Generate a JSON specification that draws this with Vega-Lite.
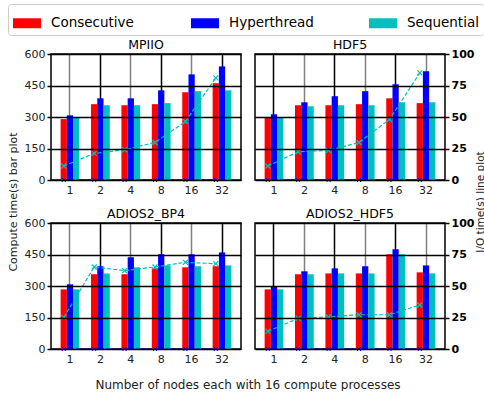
{
"$schema": "https://vega.github.io/schema/vega-lite/v6.json",
"padding": {"left": 6, "top": 3, "right": 0, "bottom": 0},
"background": "white",
"datasets": {
"bars": [
{"panel":"MPIIO","nodes":"1","series":"Consecutive","compute":290},{"panel":"MPIIO","nodes":"1","series":"Hyperthread","compute":308},{"panel":"MPIIO","nodes":"1","series":"Sequential","compute":297},
{"panel":"MPIIO","nodes":"2","series":"Consecutive","compute":361},{"panel":"MPIIO","nodes":"2","series":"Hyperthread","compute":389},{"panel":"MPIIO","nodes":"2","series":"Sequential","compute":356},
{"panel":"MPIIO","nodes":"4","series":"Consecutive","compute":356},{"panel":"MPIIO","nodes":"4","series":"Hyperthread","compute":389},{"panel":"MPIIO","nodes":"4","series":"Sequential","compute":356},
{"panel":"MPIIO","nodes":"8","series":"Consecutive","compute":361},{"panel":"MPIIO","nodes":"8","series":"Hyperthread","compute":427},{"panel":"MPIIO","nodes":"8","series":"Sequential","compute":366},
{"panel":"MPIIO","nodes":"16","series":"Consecutive","compute":418},{"panel":"MPIIO","nodes":"16","series":"Hyperthread","compute":503},{"panel":"MPIIO","nodes":"16","series":"Sequential","compute":423},
{"panel":"MPIIO","nodes":"32","series":"Consecutive","compute":461},{"panel":"MPIIO","nodes":"32","series":"Hyperthread","compute":541},{"panel":"MPIIO","nodes":"32","series":"Sequential","compute":427},
{"panel":"HDF5","nodes":"1","series":"Consecutive","compute":299},{"panel":"HDF5","nodes":"1","series":"Hyperthread","compute":313},{"panel":"HDF5","nodes":"1","series":"Sequential","compute":299},
{"panel":"HDF5","nodes":"2","series":"Consecutive","compute":356},{"panel":"HDF5","nodes":"2","series":"Hyperthread","compute":370},{"panel":"HDF5","nodes":"2","series":"Sequential","compute":351},
{"panel":"HDF5","nodes":"4","series":"Consecutive","compute":356},{"panel":"HDF5","nodes":"4","series":"Hyperthread","compute":399},{"panel":"HDF5","nodes":"4","series":"Sequential","compute":356},
{"panel":"HDF5","nodes":"8","series":"Consecutive","compute":361},{"panel":"HDF5","nodes":"8","series":"Hyperthread","compute":423},{"panel":"HDF5","nodes":"8","series":"Sequential","compute":356},
{"panel":"HDF5","nodes":"16","series":"Consecutive","compute":389},{"panel":"HDF5","nodes":"16","series":"Hyperthread","compute":456},{"panel":"HDF5","nodes":"16","series":"Sequential","compute":370},
{"panel":"HDF5","nodes":"32","series":"Consecutive","compute":366},{"panel":"HDF5","nodes":"32","series":"Hyperthread","compute":518},{"panel":"HDF5","nodes":"32","series":"Sequential","compute":370},
{"panel":"ADIOS2_BP4","nodes":"1","series":"Consecutive","compute":284},{"panel":"ADIOS2_BP4","nodes":"1","series":"Hyperthread","compute":308},{"panel":"ADIOS2_BP4","nodes":"1","series":"Sequential","compute":284},
{"panel":"ADIOS2_BP4","nodes":"2","series":"Consecutive","compute":356},{"panel":"ADIOS2_BP4","nodes":"2","series":"Hyperthread","compute":394},{"panel":"ADIOS2_BP4","nodes":"2","series":"Sequential","compute":360},
{"panel":"ADIOS2_BP4","nodes":"4","series":"Consecutive","compute":356},{"panel":"ADIOS2_BP4","nodes":"4","series":"Hyperthread","compute":437},{"panel":"ADIOS2_BP4","nodes":"4","series":"Sequential","compute":389},
{"panel":"ADIOS2_BP4","nodes":"8","series":"Consecutive","compute":384},{"panel":"ADIOS2_BP4","nodes":"8","series":"Hyperthread","compute":451},{"panel":"ADIOS2_BP4","nodes":"8","series":"Sequential","compute":398},
{"panel":"ADIOS2_BP4","nodes":"16","series":"Consecutive","compute":389},{"panel":"ADIOS2_BP4","nodes":"16","series":"Hyperthread","compute":451},{"panel":"ADIOS2_BP4","nodes":"16","series":"Sequential","compute":394},
{"panel":"ADIOS2_BP4","nodes":"32","series":"Consecutive","compute":394},{"panel":"ADIOS2_BP4","nodes":"32","series":"Hyperthread","compute":460},{"panel":"ADIOS2_BP4","nodes":"32","series":"Sequential","compute":398},
{"panel":"ADIOS2_HDF5","nodes":"1","series":"Consecutive","compute":284},{"panel":"ADIOS2_HDF5","nodes":"1","series":"Hyperthread","compute":298},{"panel":"ADIOS2_HDF5","nodes":"1","series":"Sequential","compute":284},
{"panel":"ADIOS2_HDF5","nodes":"2","series":"Consecutive","compute":356},{"panel":"ADIOS2_HDF5","nodes":"2","series":"Hyperthread","compute":370},{"panel":"ADIOS2_HDF5","nodes":"2","series":"Sequential","compute":356},
{"panel":"ADIOS2_HDF5","nodes":"4","series":"Consecutive","compute":360},{"panel":"ADIOS2_HDF5","nodes":"4","series":"Hyperthread","compute":384},{"panel":"ADIOS2_HDF5","nodes":"4","series":"Sequential","compute":360},
{"panel":"ADIOS2_HDF5","nodes":"8","series":"Consecutive","compute":360},{"panel":"ADIOS2_HDF5","nodes":"8","series":"Hyperthread","compute":394},{"panel":"ADIOS2_HDF5","nodes":"8","series":"Sequential","compute":360},
{"panel":"ADIOS2_HDF5","nodes":"16","series":"Consecutive","compute":451},{"panel":"ADIOS2_HDF5","nodes":"16","series":"Hyperthread","compute":475},{"panel":"ADIOS2_HDF5","nodes":"16","series":"Sequential","compute":451},
{"panel":"ADIOS2_HDF5","nodes":"32","series":"Consecutive","compute":365},{"panel":"ADIOS2_HDF5","nodes":"32","series":"Hyperthread","compute":398},{"panel":"ADIOS2_HDF5","nodes":"32","series":"Sequential","compute":360}
],
"io": [
{"panel":"MPIIO","nodes":"1","series":"Hyperthread","io":0},{"panel":"MPIIO","nodes":"2","series":"Hyperthread","io":0},{"panel":"MPIIO","nodes":"4","series":"Hyperthread","io":0},{"panel":"MPIIO","nodes":"8","series":"Hyperthread","io":0},{"panel":"MPIIO","nodes":"16","series":"Hyperthread","io":0},{"panel":"MPIIO","nodes":"32","series":"Hyperthread","io":0},
{"panel":"MPIIO","nodes":"1","series":"Sequential","io":11.1},{"panel":"MPIIO","nodes":"2","series":"Sequential","io":21.1},{"panel":"MPIIO","nodes":"4","series":"Sequential","io":24.0},{"panel":"MPIIO","nodes":"8","series":"Sequential","io":29.8},{"panel":"MPIIO","nodes":"16","series":"Sequential","io":46.4},{"panel":"MPIIO","nodes":"32","series":"Sequential","io":81.0},
{"panel":"HDF5","nodes":"1","series":"Hyperthread","io":0},{"panel":"HDF5","nodes":"2","series":"Hyperthread","io":0},{"panel":"HDF5","nodes":"4","series":"Hyperthread","io":0},{"panel":"HDF5","nodes":"8","series":"Hyperthread","io":0},{"panel":"HDF5","nodes":"16","series":"Hyperthread","io":0},{"panel":"HDF5","nodes":"32","series":"Hyperthread","io":0},
{"panel":"HDF5","nodes":"1","series":"Sequential","io":11.1},{"panel":"HDF5","nodes":"2","series":"Sequential","io":22.4},{"panel":"HDF5","nodes":"4","series":"Sequential","io":23.5},{"panel":"HDF5","nodes":"8","series":"Sequential","io":29.8},{"panel":"HDF5","nodes":"16","series":"Sequential","io":48.0},{"panel":"HDF5","nodes":"32","series":"Sequential","io":85.0},
{"panel":"ADIOS2_BP4","nodes":"1","series":"Hyperthread","io":0},{"panel":"ADIOS2_BP4","nodes":"2","series":"Hyperthread","io":0},{"panel":"ADIOS2_BP4","nodes":"4","series":"Hyperthread","io":0},{"panel":"ADIOS2_BP4","nodes":"8","series":"Hyperthread","io":0},{"panel":"ADIOS2_BP4","nodes":"16","series":"Hyperthread","io":0},{"panel":"ADIOS2_BP4","nodes":"32","series":"Hyperthread","io":0},
{"panel":"ADIOS2_BP4","nodes":"1","series":"Sequential","io":25.1},{"panel":"ADIOS2_BP4","nodes":"2","series":"Sequential","io":65.1},{"panel":"ADIOS2_BP4","nodes":"4","series":"Sequential","io":62.2},{"panel":"ADIOS2_BP4","nodes":"8","series":"Sequential","io":65.1},{"panel":"ADIOS2_BP4","nodes":"16","series":"Sequential","io":68.8},{"panel":"ADIOS2_BP4","nodes":"32","series":"Sequential","io":67.7},
{"panel":"ADIOS2_HDF5","nodes":"1","series":"Hyperthread","io":0},{"panel":"ADIOS2_HDF5","nodes":"2","series":"Hyperthread","io":0},{"panel":"ADIOS2_HDF5","nodes":"4","series":"Hyperthread","io":0},{"panel":"ADIOS2_HDF5","nodes":"8","series":"Hyperthread","io":0},{"panel":"ADIOS2_HDF5","nodes":"16","series":"Hyperthread","io":0},{"panel":"ADIOS2_HDF5","nodes":"32","series":"Hyperthread","io":0},
{"panel":"ADIOS2_HDF5","nodes":"1","series":"Sequential","io":14.0},{"panel":"ADIOS2_HDF5","nodes":"2","series":"Sequential","io":24.3},{"panel":"ADIOS2_HDF5","nodes":"4","series":"Sequential","io":25.4},{"panel":"ADIOS2_HDF5","nodes":"8","series":"Sequential","io":27.2},{"panel":"ADIOS2_HDF5","nodes":"16","series":"Sequential","io":27.2},{"panel":"ADIOS2_HDF5","nodes":"32","series":"Sequential","io":34.9}
]
},
"bounds": "flush",
"columns": 2,
"spacing": {"row": 43, "column": 14},
"concat": [
{"title": {"text": "MPIIO"}, "width": 190, "height": 126,
"layer": [
{"data": {"name": "bars"}, "transform": [{"filter": "datum.panel === 'MPIIO'"}], "mark": {"type": "bar"},
"encoding": {
"x": {"field": "nodes", "type": "ordinal", "sort": ["1","2","4","8","16","32"], "scale": {"paddingInner": 0.383, "paddingOuter": 0.316},
 "axis": {"title": null, "labelAngle": 0, "grid": true, "bandPosition": 0.5, "gridColor": {"condition": {"test": "indexof(['1','4','16'], datum.value) >= 0", "value": "#808080"}, "value": "black"}, "gridWidth": 1.5, "domain": false, "ticks": false, "labelFontSize": 11, "labelPadding": 4, "labelColor": "#222"}},
"xOffset": {"field": "series", "type": "nominal", "sort": ["Consecutive","Hyperthread","Sequential"], "scale": {"paddingInner": 0, "paddingOuter": 0}},
"y": {"field": "compute", "type": "quantitative", "scale": {"domain": [0, 600]},
 "axis": {"values": [0,150,300,450,600], "grid": true, "gridColor": "black", "gridWidth": 1.5, "zindex": 1, "domain": false, "tickColor": "black", "tickSize": 4, "tickWidth": 1.5, "labelFontSize": 11, "labelColor": "#222", "labelPadding": 2,
  "title": "Compute time(s) bar plot", "titleX": -38, "titleY": 147.5, "titleAngle": 270, "titleBaseline": "middle", "titleAlign": "center", "titleFontSize": 11, "titleFontWeight": "normal", "titleColor": "#222"}},
"color": {"field": "series", "type": "nominal", "title": null, "scale": {"domain": ["Consecutive","Hyperthread","Sequential"], "range": ["#ff0000","#0000ff","#00bfbf"]}}}},
{"data": {"name": "io"}, "transform": [{"filter": "datum.panel === 'MPIIO' && datum.series === 'Hyperthread'"}],
"mark": {"type": "line", "color": "#0000ff", "strokeDash": [4,2], "strokeWidth": 1, "xOffset": -6.2, "point": {"shape": "M-1,-1L1,1M1,-1L-1,1", "filled": false, "color": "#0000ff", "size": 16, "strokeWidth": 1, "xOffset": -6.2}},
"encoding": {
"x": {"field": "nodes", "type": "ordinal", "sort": ["1","2","4","8","16","32"]},
"y": {"field": "io", "type": "quantitative", "scale": {"domain": [0, 100]}, "axis": null}}},
{"data": {"name": "io"}, "transform": [{"filter": "datum.panel === 'MPIIO' && datum.series === 'Sequential'"}],
"mark": {"type": "line", "color": "#00bfbf", "strokeDash": [4,2], "strokeWidth": 1.2, "xOffset": -6.2, "point": {"shape": "M-1,-1L1,1M1,-1L-1,1", "filled": false, "color": "#00bfbf", "size": 25, "strokeWidth": 1.2, "xOffset": -6.2}},
"encoding": {
"x": {"field": "nodes", "type": "ordinal", "sort": ["1","2","4","8","16","32"]},
"y": {"field": "io", "type": "quantitative", "scale": {"domain": [0, 100]}, "axis": null}}}
],
"resolve": {"scale": {"y": "independent"}}},
{"title": {"text": "HDF5"}, "width": 190, "height": 126,
"layer": [
{"data": {"name": "bars"}, "transform": [{"filter": "datum.panel === 'HDF5'"}], "mark": {"type": "bar"},
"encoding": {
"x": {"field": "nodes", "type": "ordinal", "sort": ["1","2","4","8","16","32"], "scale": {"paddingInner": 0.383, "paddingOuter": 0.316},
 "axis": {"title": null, "labelAngle": 0, "grid": true, "bandPosition": 0.5, "gridColor": {"condition": {"test": "indexof(['2','8','32'], datum.value) >= 0", "value": "#808080"}, "value": "black"}, "gridWidth": 1.5, "domain": false, "ticks": false, "labelFontSize": 11, "labelPadding": 4, "labelColor": "#222"}},
"xOffset": {"field": "series", "type": "nominal", "sort": ["Consecutive","Hyperthread","Sequential"], "scale": {"paddingInner": 0, "paddingOuter": 0}},
"y": {"field": "compute", "type": "quantitative", "scale": {"domain": [0, 600]},
 "axis": {"values": [0,150,300,450,600], "grid": true, "gridColor": "black", "gridWidth": 1.5, "zindex": 1, "domain": false, "ticks": false, "labels": false, "title": null}},
"color": {"field": "series", "type": "nominal", "title": null, "scale": {"domain": ["Consecutive","Hyperthread","Sequential"], "range": ["#ff0000","#0000ff","#00bfbf"]}}}},
{"data": {"name": "io"}, "transform": [{"filter": "datum.panel === 'HDF5' && datum.series === 'Hyperthread'"}],
"mark": {"type": "line", "color": "#0000ff", "strokeDash": [4,2], "strokeWidth": 1, "xOffset": -6.2, "point": {"shape": "M-1,-1L1,1M1,-1L-1,1", "filled": false, "color": "#0000ff", "size": 16, "strokeWidth": 1, "xOffset": -6.2}},
"encoding": {
"x": {"field": "nodes", "type": "ordinal", "sort": ["1","2","4","8","16","32"]},
"y": {"field": "io", "type": "quantitative", "scale": {"domain": [0, 100]}, "axis": null}}},
{"data": {"name": "io"}, "transform": [{"filter": "datum.panel === 'HDF5' && datum.series === 'Sequential'"}],
"mark": {"type": "line", "color": "#00bfbf", "strokeDash": [4,2], "strokeWidth": 1.2, "xOffset": -6.2, "point": {"shape": "M-1,-1L1,1M1,-1L-1,1", "filled": false, "color": "#00bfbf", "size": 25, "strokeWidth": 1.2, "xOffset": -6.2}},
"encoding": {
"x": {"field": "nodes", "type": "ordinal", "sort": ["1","2","4","8","16","32"]},
"y": {"field": "io", "type": "quantitative", "scale": {"domain": [0, 100]},
 "axis": {"orient": "right", "values": [0,25,50,75,100], "grid": false, "domain": false, "tickColor": "black", "tickSize": 4, "tickWidth": 1.5, "labelFontSize": 11, "labelFontWeight": "bold", "labelColor": "black", "labelPadding": 2,
  "title": "I/O time(s) line plot", "titleX": 35, "titleY": 147.5, "titleAngle": 270, "titleBaseline": "middle", "titleAlign": "center", "titleFontSize": 10.5, "titleFontWeight": "normal", "titleColor": "#222"}}}}
],
"resolve": {"scale": {"y": "independent"}}},
{"title": {"text": "ADIOS2_BP4"}, "width": 190, "height": 126,
"layer": [
{"data": {"name": "bars"}, "transform": [{"filter": "datum.panel === 'ADIOS2_BP4'"}], "mark": {"type": "bar"},
"encoding": {
"x": {"field": "nodes", "type": "ordinal", "sort": ["1","2","4","8","16","32"], "scale": {"paddingInner": 0.383, "paddingOuter": 0.316},
 "axis": {"labelAngle": 0, "grid": true, "bandPosition": 0.5, "gridColor": {"condition": {"test": "indexof(['1','4','16'], datum.value) >= 0", "value": "#808080"}, "value": "black"}, "gridWidth": 1.5, "domain": false, "ticks": false, "labelFontSize": 11, "labelPadding": 4, "labelColor": "#222",
  "title": "Number of nodes each with 16 compute processes", "titleX": 196.5, "titleY": 35, "titleAlign": "center", "titleBaseline": "middle", "titleFontSize": 12, "titleFontWeight": "normal", "titleColor": "#222"}},
"xOffset": {"field": "series", "type": "nominal", "sort": ["Consecutive","Hyperthread","Sequential"], "scale": {"paddingInner": 0, "paddingOuter": 0}},
"y": {"field": "compute", "type": "quantitative", "scale": {"domain": [0, 600]},
 "axis": {"values": [0,150,300,450,600], "grid": true, "gridColor": "black", "gridWidth": 1.5, "zindex": 1, "domain": false, "tickColor": "black", "tickSize": 4, "tickWidth": 1.5, "labelFontSize": 11, "labelColor": "#222", "labelPadding": 2, "title": null}},
"color": {"field": "series", "type": "nominal", "title": null, "scale": {"domain": ["Consecutive","Hyperthread","Sequential"], "range": ["#ff0000","#0000ff","#00bfbf"]}}}},
{"data": {"name": "io"}, "transform": [{"filter": "datum.panel === 'ADIOS2_BP4' && datum.series === 'Hyperthread'"}],
"mark": {"type": "line", "color": "#0000ff", "strokeDash": [4,2], "strokeWidth": 1, "xOffset": -6.2, "point": {"shape": "M-1,-1L1,1M1,-1L-1,1", "filled": false, "color": "#0000ff", "size": 16, "strokeWidth": 1, "xOffset": -6.2}},
"encoding": {
"x": {"field": "nodes", "type": "ordinal", "sort": ["1","2","4","8","16","32"]},
"y": {"field": "io", "type": "quantitative", "scale": {"domain": [0, 100]}, "axis": null}}},
{"data": {"name": "io"}, "transform": [{"filter": "datum.panel === 'ADIOS2_BP4' && datum.series === 'Sequential'"}],
"mark": {"type": "line", "color": "#00bfbf", "strokeDash": [4,2], "strokeWidth": 1.2, "xOffset": -6.2, "point": {"shape": "M-1,-1L1,1M1,-1L-1,1", "filled": false, "color": "#00bfbf", "size": 25, "strokeWidth": 1.2, "xOffset": -6.2}},
"encoding": {
"x": {"field": "nodes", "type": "ordinal", "sort": ["1","2","4","8","16","32"]},
"y": {"field": "io", "type": "quantitative", "scale": {"domain": [0, 100]}, "axis": null}}}
],
"resolve": {"scale": {"y": "independent"}}},
{"title": {"text": "ADIOS2_HDF5"}, "width": 190, "height": 126,
"layer": [
{"data": {"name": "bars"}, "transform": [{"filter": "datum.panel === 'ADIOS2_HDF5'"}], "mark": {"type": "bar"},
"encoding": {
"x": {"field": "nodes", "type": "ordinal", "sort": ["1","2","4","8","16","32"], "scale": {"paddingInner": 0.383, "paddingOuter": 0.316},
 "axis": {"title": null, "labelAngle": 0, "grid": true, "bandPosition": 0.5, "gridColor": {"condition": {"test": "indexof(['2','8','32'], datum.value) >= 0", "value": "#808080"}, "value": "black"}, "gridWidth": 1.5, "domain": false, "ticks": false, "labelFontSize": 11, "labelPadding": 4, "labelColor": "#222"}},
"xOffset": {"field": "series", "type": "nominal", "sort": ["Consecutive","Hyperthread","Sequential"], "scale": {"paddingInner": 0, "paddingOuter": 0}},
"y": {"field": "compute", "type": "quantitative", "scale": {"domain": [0, 600]},
 "axis": {"values": [0,150,300,450,600], "grid": true, "gridColor": "black", "gridWidth": 1.5, "zindex": 1, "domain": false, "ticks": false, "labels": false, "title": null}},
"color": {"field": "series", "type": "nominal", "title": null, "scale": {"domain": ["Consecutive","Hyperthread","Sequential"], "range": ["#ff0000","#0000ff","#00bfbf"]}}}},
{"data": {"name": "io"}, "transform": [{"filter": "datum.panel === 'ADIOS2_HDF5' && datum.series === 'Hyperthread'"}],
"mark": {"type": "line", "color": "#0000ff", "strokeDash": [4,2], "strokeWidth": 1, "xOffset": -6.2, "point": {"shape": "M-1,-1L1,1M1,-1L-1,1", "filled": false, "color": "#0000ff", "size": 16, "strokeWidth": 1, "xOffset": -6.2}},
"encoding": {
"x": {"field": "nodes", "type": "ordinal", "sort": ["1","2","4","8","16","32"]},
"y": {"field": "io", "type": "quantitative", "scale": {"domain": [0, 100]}, "axis": null}}},
{"data": {"name": "io"}, "transform": [{"filter": "datum.panel === 'ADIOS2_HDF5' && datum.series === 'Sequential'"}],
"mark": {"type": "line", "color": "#00bfbf", "strokeDash": [4,2], "strokeWidth": 1.2, "xOffset": -6.2, "point": {"shape": "M-1,-1L1,1M1,-1L-1,1", "filled": false, "color": "#00bfbf", "size": 25, "strokeWidth": 1.2, "xOffset": -6.2}},
"encoding": {
"x": {"field": "nodes", "type": "ordinal", "sort": ["1","2","4","8","16","32"]},
"y": {"field": "io", "type": "quantitative", "scale": {"domain": [0, 100]},
 "axis": {"orient": "right", "values": [0,25,50,75,100], "grid": false, "domain": false, "tickColor": "black", "tickSize": 4, "tickWidth": 1.5, "labelFontSize": 11, "labelFontWeight": "bold", "labelColor": "black", "labelPadding": 2, "title": null}}}}
],
"resolve": {"scale": {"y": "independent"}}}
],
"config": {
"font": "DejaVu Sans",
"view": {"stroke": "black", "strokeWidth": 1.5},
"title": {"fontSize": 12.5, "fontWeight": "normal", "offset": -3.5, "color": "black", "anchor": "middle", "font": "DejaVu Sans"},
"legend": {"orient": "none", "legendX": -43, "legendY": -50, "direction": "horizontal", "columns": 3, "gridAlign": "all", "columnPadding": 55, "symbolType": "M-1,-0.357H1V0.357H-1Z", "symbolSize": 784, "symbolStrokeWidth": 0, "labelFontSize": 13.5, "labelOffset": 10, "labelColor": "black", "padding": 5, "strokeColor": "#cccccc", "cornerRadius": 3, "fillColor": "white"}
}
}
